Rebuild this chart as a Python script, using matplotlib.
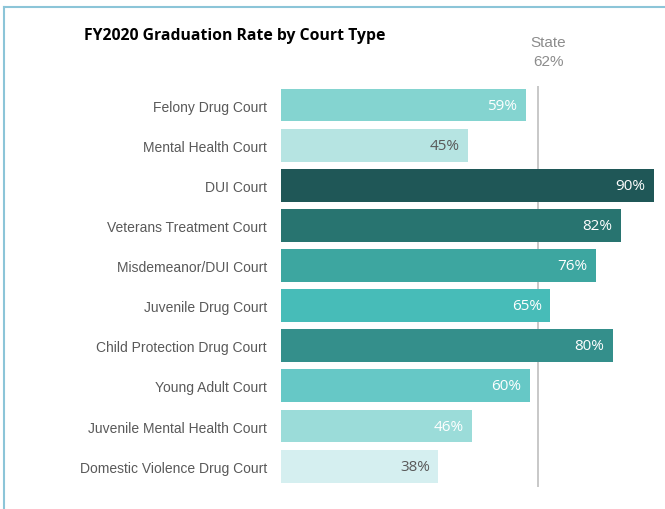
import matplotlib.pyplot as plt
from matplotlib.lines import Line2D

# данные графика
courts = [
    'Felony Drug Court',
    'Mental Health Court',
    'DUI Court',
    'Veterans Treatment Court',
    'Misdemeanor/DUI Court',
    'Juvenile Drug Court',
    'Child Protection Drug Court',
    'Young Adult Court',
    'Juvenile Mental Health Court',
    'Domestic Violence Drug Court',
]
rates = [59, 45, 90, 82, 76, 65, 80, 60, 46, 38]
state_rate = 62

bar_colors = ['#84d4d0', '#b6e4e2', '#1f5757', '#287470', '#3da6a0',
              '#47bcb8', '#348f8b', '#66c8c6', '#9bdcd9', '#d5eff0']
text_colors = ['white', '#595959', 'white', 'white', 'white',
               'white', 'white', 'white', 'white', '#595959']

W, H = 665, 510
fig = plt.figure(figsize=(W / 100, H / 100), dpi=100)

# рамка слева и сверху
frame = '#8cc5d8'
fig.add_artist(Line2D([4 / W, 4 / W], [0, 1 - 8 / H], color=frame, lw=1.5,
                      transform=fig.transFigure))
fig.add_artist(Line2D([4 / W, 1], [1 - 8 / H, 1 - 8 / H], color=frame, lw=1.5,
                      transform=fig.transFigure))

ax = fig.add_axes([281 / W, 1 - 488 / H, 373 / W, 401 / H])
y = list(range(len(courts)))
ax.barh(y, rates, height=0.82, color=bar_colors)
ax.axvline(state_rate, color='#bfbfbf', lw=1.2, zorder=0)

for yi, r, tc in zip(y, rates, text_colors):
    ax.text(r - 2, yi, f'{r}%', ha='right', va='center', color=tc,
            fontsize=11, family='Open Sans')

ax.set_xlim(0, 90)
ax.set_ylim(9.52, -0.474)
ax.set_yticks(y)
ax.set_yticklabels(courts, fontsize=10, color='#595959', family='Liberation Sans')
ax.tick_params(axis='y', length=0, pad=10)
ax.set_xticks([])
for s in ax.spines.values():
    s.set_visible(False)

fig.text(84 / W, 1 - 36 / H, 'FY2020 Graduation Rate by Court Type',
         fontsize=11.3, fontweight='bold', family='Open Sans', va='center', ha='left')
fig.text(548 / W, 1 - 43 / H, 'State', fontsize=11, color='#8c8c8c',
         ha='center', va='center', family='Liberation Sans')
fig.text(548 / W, 1 - 62 / H, f'{state_rate}%', fontsize=11, color='#8c8c8c',
         ha='center', va='center', family='Liberation Sans')

plt.savefig('out.png', dpi=100)
